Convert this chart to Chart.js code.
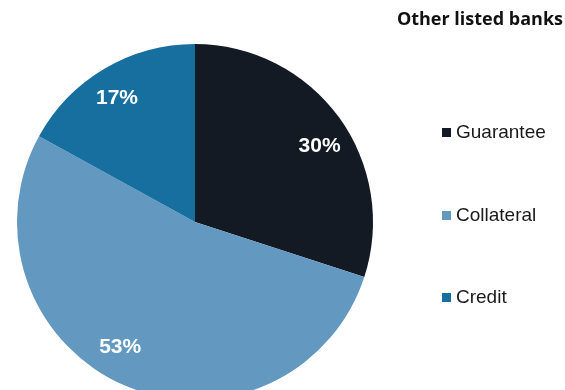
<!DOCTYPE html>
<html>
<head>
<meta charset="utf-8">
<script src="https://cdn.jsdelivr.net/npm/chart.js@4/dist/chart.umd.min.js"></script>
<style>
  html, body { margin: 0; padding: 0; background: #fff; overflow: hidden; }
  #wrap { width: 565px; height: 400px; }
</style>
</head>
<body>
<div id="wrap"><canvas id="pieChart" width="565" height="400"></canvas></div>
<script>
// data
const title = "Other listed banks";
const labels = ["Guarantee", "Collateral", "Credit"];
const shares = [30, 53, 17];
const colors = ["#131a23", "#6398c0", "#176fa0"];

// percentage labels inside the slices (small angle nudges to sit like the original)
const nudge = [0.08, 0.13, -0.03];

const sliceLabels = {
    id: 'sliceLabels',
    afterDatasetsDraw(chart) {
        const ctx = chart.ctx;
        const meta = chart.getDatasetMeta(0);
        ctx.save();
        ctx.fillStyle = '#ffffff';
        ctx.font = 'bold 21px "Liberation Sans", Arial, sans-serif';
        ctx.textAlign = 'center';
        ctx.textBaseline = 'middle';
        meta.data.forEach(function(arc, i) {
            const p = arc.getProps(['x', 'y', 'startAngle', 'endAngle', 'outerRadius'], true);
            const mid = (p.startAngle + p.endAngle) / 2 + nudge[i];
            const r = p.outerRadius * 0.82;
            ctx.fillText(shares[i] + '%', p.x + Math.cos(mid) * r, p.y + Math.sin(mid) * r);
        });
        ctx.restore();
    }
};

// title + legend on the right side
const sideText = {
    id: 'sideText',
    afterDraw(chart) {
        const ctx = chart.ctx;
        ctx.save();
        ctx.fillStyle = '#111111';
        ctx.font = 'bold 18px "Open Sans", sans-serif';
        ctx.textAlign = 'right';
        ctx.textBaseline = 'middle';
        ctx.fillText(title, 563, 20);

        const rows = [132, 215, 297];
        ctx.font = '19px "Liberation Sans", Arial, sans-serif';
        ctx.textAlign = 'left';
        labels.forEach(function(lab, i) {
            ctx.fillStyle = colors[i];
            ctx.fillRect(442, rows[i] - 4, 9, 9);
            ctx.fillStyle = '#1a1a1a';
            ctx.fillText(lab, 456, rows[i] + 1);
        });
        ctx.restore();
    }
};

new Chart(document.getElementById('pieChart'), {
    type: 'pie',
    data: {
        labels: labels,
        datasets: [{
            data: shares,
            backgroundColor: colors,
            borderWidth: 0
        }]
    },
    options: {
        responsive: false,
        animation: false,
        layout: { padding: { left: 17, right: 192, top: 44, bottom: 0 } },
        plugins: {
            legend: { display: false },
            tooltip: { enabled: false }
        }
    },
    plugins: [sliceLabels, sideText]
});
</script>
</body>
</html>
